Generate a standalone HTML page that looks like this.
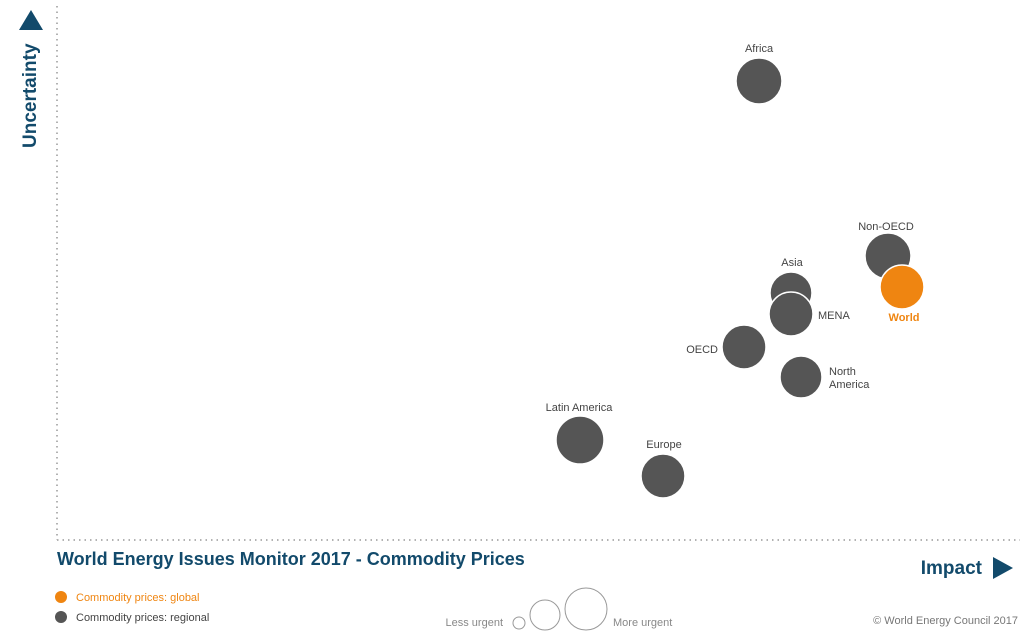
<!DOCTYPE html>
<html><head><meta charset="utf-8"><style>
body{margin:0;background:#fff}
svg{display:block;font-family:"Liberation Sans",sans-serif}
</style></head><body>
<svg width="1024" height="636" viewBox="0 0 1024 636">
<line x1="57" y1="6" x2="57" y2="540" stroke="#999" stroke-width="1.5" stroke-dasharray="1.5 4"/>
<line x1="57" y1="540" x2="1020" y2="540" stroke="#999" stroke-width="1.5" stroke-dasharray="1.5 4"/>
<polygon points="31,10 43,30 19,30" fill="#124a6b"/>
<text transform="translate(36,148) rotate(-90)" font-size="19" font-weight="bold" fill="#124a6b">Uncertainty</text>
<g fill="#555" stroke="#fff" stroke-width="1.5">
<circle cx="759" cy="81" r="23"/>
<circle cx="888" cy="256" r="23"/>
<circle cx="791" cy="293" r="21"/>
<circle cx="791" cy="314" r="22"/>
<circle cx="744" cy="347" r="22"/>
<circle cx="801" cy="377" r="21"/>
<circle cx="580" cy="440" r="24"/>
<circle cx="663" cy="476" r="22"/>
<circle cx="902" cy="287" r="22" fill="#ef8511"/>
</g>
<g font-size="11" fill="#444">
<text x="759" y="52" text-anchor="middle">Africa</text>
<text x="886" y="230" text-anchor="middle">Non-OECD</text>
<text x="792" y="266" text-anchor="middle">Asia</text>
<text x="818" y="319">MENA</text>
<text x="718" y="353" text-anchor="end">OECD</text>
<text x="829" y="375">North</text>
<text x="829" y="388">America</text>
<text x="579" y="411" text-anchor="middle">Latin America</text>
<text x="664" y="448" text-anchor="middle">Europe</text>
<text x="904" y="321" text-anchor="middle" fill="#ef8511" font-weight="bold">World</text>
</g>
<text x="57" y="565" font-size="18" font-weight="bold" fill="#124a6b">World Energy Issues Monitor 2017 - Commodity Prices</text>
<text x="982" y="574" font-size="19" font-weight="bold" fill="#124a6b" text-anchor="end">Impact</text>
<polygon points="993,557 1013,568 993,579" fill="#124a6b"/>
<circle cx="61" cy="597" r="6" fill="#ef8511"/>
<text x="76" y="601" font-size="11" fill="#ef8511">Commodity prices: global</text>
<circle cx="61" cy="617" r="6" fill="#555"/>
<text x="76" y="621" font-size="11" fill="#444">Commodity prices: regional</text>
<text x="503" y="626" font-size="11" fill="#888" text-anchor="end">Less urgent</text>
<g fill="none" stroke="#999" stroke-width="1">
<circle cx="519" cy="623" r="6"/>
<circle cx="545" cy="615" r="15"/>
<circle cx="586" cy="609" r="21"/>
</g>
<text x="613" y="626" font-size="11" fill="#888">More urgent</text>
<text x="1018" y="624" font-size="11" fill="#777" text-anchor="end">© World Energy Council 2017</text>
</svg>
</body></html>
